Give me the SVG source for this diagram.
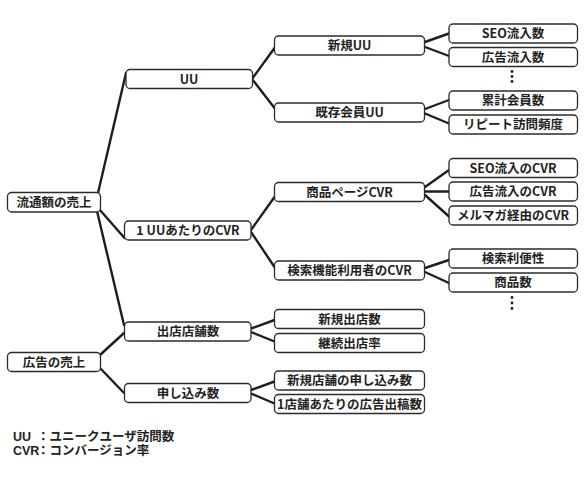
<svg xmlns="http://www.w3.org/2000/svg" width="586" height="482" viewBox="0 0 586 482">
<style>
.b{fill:#fff;stroke:#2b2b2b;stroke-width:1.3}
.t{font-family:"Noto Sans CJK JP","Noto Sans",sans-serif;font-size:12.5px;font-weight:700;fill:#222;text-anchor:middle}
.l{font-family:"Liberation Sans","Noto Sans CJK JP",sans-serif;font-size:12.5px;font-weight:700;fill:#222}
.c line{stroke:#1e1e1e;stroke-width:2.4;stroke-linecap:round}
.d{fill:#1e1e1e}
</style>
<rect width="586" height="482" fill="#fff"/>
<g class="c" id="connectors">
<line x1="98" y1="193" x2="126" y2="73"/>
<line x1="100" y1="210" x2="124.5" y2="238"/>
<line x1="97" y1="211" x2="124" y2="325"/>
<line x1="100" y1="355" x2="124" y2="333"/>
<line x1="100" y1="368" x2="124" y2="393"/>
<line x1="252" y1="79" x2="274.5" y2="48"/>
<line x1="252" y1="79" x2="274.5" y2="108"/>
<line x1="251" y1="230" x2="274.5" y2="197"/>
<line x1="251" y1="232" x2="274.5" y2="267"/>
<line x1="425" y1="42" x2="449" y2="33.5"/>
<line x1="425" y1="47" x2="449" y2="56"/>
<line x1="425" y1="109" x2="449" y2="100"/>
<line x1="425" y1="113.5" x2="449" y2="123.5"/>
<line x1="425" y1="187" x2="449" y2="170"/>
<line x1="425" y1="191.5" x2="449" y2="191.5"/>
<line x1="425" y1="195" x2="449" y2="216.5"/>
<line x1="425" y1="268" x2="449" y2="260"/>
<line x1="425" y1="272" x2="449" y2="283"/>
<line x1="251" y1="328.5" x2="274.5" y2="320"/>
<line x1="251" y1="332" x2="274.5" y2="341.5"/>
<line x1="251" y1="390" x2="274.5" y2="381.5"/>
<line x1="251" y1="393.5" x2="274.5" y2="403.5"/>
</g>
<g id="n-ryutsu"><rect class="b" x="7.5" y="192.5" width="93" height="19.5" rx="4"/><text class="t" x="54" y="207">流通額の売上</text></g>
<g id="n-kokoku"><rect class="b" x="7.5" y="352.5" width="93" height="19" rx="4"/><text class="t" x="54" y="366.5">広告の売上</text></g>
<g id="n-uu"><rect class="b" x="126" y="69.5" width="126.5" height="19" rx="4"/><text class="t" x="189" y="83.5">UU</text></g>
<g id="n-1uucvr"><rect class="b" x="124.5" y="221" width="126.5" height="19" rx="4"/><text class="t" x="188" y="235">1 UUあたりのCVR</text></g>
<g id="n-shutten"><rect class="b" x="124.5" y="322" width="126.5" height="19" rx="4"/><text class="t" x="188" y="336">出店店舗数</text></g>
<g id="n-moshikomi"><rect class="b" x="124.5" y="383.5" width="126.5" height="19" rx="4"/><text class="t" x="188" y="397.5">申し込み数</text></g>
<g id="n-shinkiuu"><rect class="b" x="274.5" y="36" width="150" height="19" rx="4"/><text class="t" x="349.5" y="50">新規UU</text></g>
<g id="n-kizonuu"><rect class="b" x="274.5" y="103" width="150" height="19" rx="4"/><text class="t" x="349.5" y="117">既存会員UU</text></g>
<g id="n-shohincvr"><rect class="b" x="274.5" y="182.5" width="150" height="19" rx="4"/><text class="t" x="349.5" y="196.5">商品ページCVR</text></g>
<g id="n-kensakucvr"><rect class="b" x="274.5" y="261" width="150" height="19" rx="4"/><text class="t" x="349.5" y="275">検索機能利用者のCVR</text></g>
<g id="n-shinkishutten"><rect class="b" x="274.5" y="309.5" width="150" height="19" rx="4"/><text class="t" x="349.5" y="323.5">新規出店数</text></g>
<g id="n-keizoku"><rect class="b" x="274.5" y="333.5" width="150" height="19" rx="4"/><text class="t" x="349.5" y="347.5">継続出店率</text></g>
<g id="n-shinkitenpo"><rect class="b" x="274.5" y="371" width="150" height="19" rx="4"/><text class="t" x="349.5" y="385">新規店舗の申し込み数</text></g>
<g id="n-1tenpo"><rect class="b" x="274.5" y="394.5" width="150" height="19" rx="4"/><text class="t" x="349.5" y="408.5">1店舗あたりの広告出稿数</text></g>
<g id="n-seo"><rect class="b" x="449" y="24" width="128.5" height="19" rx="4"/><text class="t" x="513" y="38">SEO流入数</text></g>
<g id="n-ad"><rect class="b" x="449" y="47.5" width="128.5" height="19" rx="4"/><text class="t" x="513" y="61.5">広告流入数</text></g>
<g id="n-ruikei"><rect class="b" x="449" y="91" width="128.5" height="19" rx="4"/><text class="t" x="513" y="105">累計会員数</text></g>
<g id="n-repeat"><rect class="b" x="449" y="115" width="128.5" height="19" rx="4"/><text class="t" x="513" y="129">リピート訪問頻度</text></g>
<g id="n-seocvr"><rect class="b" x="449" y="158.5" width="128.5" height="19" rx="4"/><text class="t" x="513" y="172.5">SEO流入のCVR</text></g>
<g id="n-adcvr"><rect class="b" x="449" y="182" width="128.5" height="19" rx="4"/><text class="t" x="513" y="196">広告流入のCVR</text></g>
<g id="n-mailcvr"><rect class="b" x="449" y="206" width="128.5" height="19" rx="4"/><text class="t" x="513" y="220">メルマガ経由のCVR</text></g>
<g id="n-benri"><rect class="b" x="449" y="249" width="128.5" height="19" rx="4"/><text class="t" x="513" y="263">検索利便性</text></g>
<g id="n-shohinsu"><rect class="b" x="449" y="273" width="128.5" height="19" rx="4"/><text class="t" x="513" y="287">商品数</text></g>
<g id="dots1"><circle class="d" cx="512" cy="71.5" r="1.4"/><circle class="d" cx="512" cy="76.5" r="1.4"/><circle class="d" cx="512" cy="81.5" r="1.4"/></g>
<g id="dots2"><circle class="d" cx="512" cy="297.5" r="1.4"/><circle class="d" cx="512" cy="303" r="1.4"/><circle class="d" cx="512" cy="308.5" r="1.4"/></g>
<g id="legend">
<text class="l"><tspan x="13" y="441">UU</tspan><tspan x="37" y="441">：ユニークユーザ訪問数</tspan><tspan x="13" y="455">CVR</tspan><tspan x="37" y="455">：コンバージョン率</tspan></text>
</g>
</svg>
